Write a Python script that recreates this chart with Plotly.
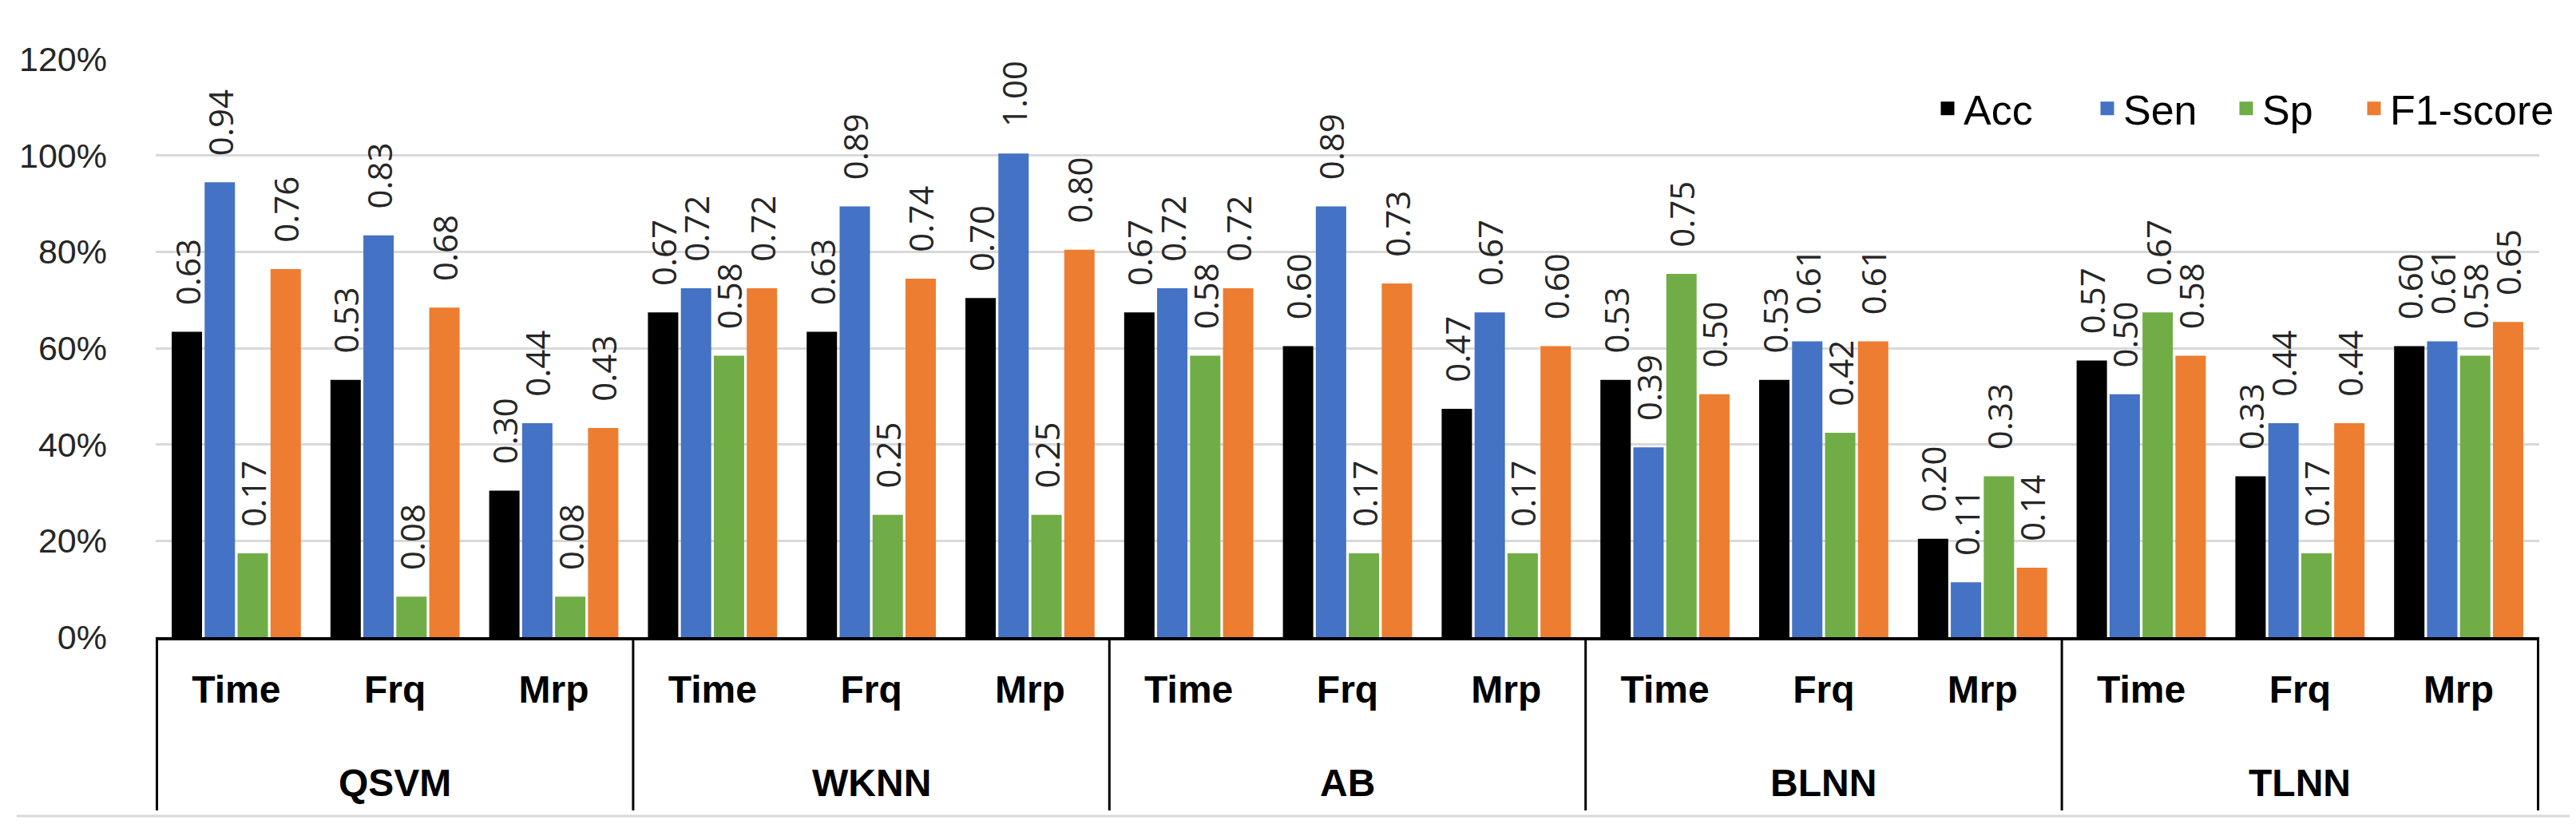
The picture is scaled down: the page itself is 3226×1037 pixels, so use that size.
import plotly.graph_objects as go

groups = ["QSVM", "WKNN", "AB", "BLNN", "TLNN"]
subs = ["Time", "Frq", "Mrp"]
metrics = ["Acc", "Sen", "Sp", "F1-score"]
colors = ["#000000", "#4472C4", "#70AD47", "#ED7D31"]

acc = [0.63, 0.53, 0.30, 0.67, 0.63, 0.70, 0.67, 0.60, 0.47, 0.53, 0.53, 0.20, 0.57, 0.33, 0.60]
sen = [0.94, 0.83, 0.44, 0.72, 0.89, 1.00, 0.72, 0.89, 0.67, 0.39, 0.61, 0.11, 0.50, 0.44, 0.61]
sp = [0.17, 0.08, 0.08, 0.58, 0.25, 0.25, 0.58, 0.17, 0.17, 0.75, 0.42, 0.33, 0.67, 0.17, 0.58]
f1 = [0.76, 0.68, 0.43, 0.72, 0.74, 0.80, 0.72, 0.73, 0.60, 0.50, 0.61, 0.14, 0.58, 0.44, 0.65]
series = [acc, sen, sp, f1]

ids = [f"{g} {s}" for g in groups for s in subs]
ticktext = [s for g in groups for s in subs]

W, H = 3226, 1037
ml, mr, mt, mb = 187, 54, 66, 247
ph = H - mt - mb
pw = W - ml - mr

def py(y):
    return (H - mb - y) / ph

def px(x):
    return (x - ml) / pw

legend_keys = ["legend", "legend2", "legend3", "legend4"]
legend_left = [2411, 2611, 2785, 2945]

fig = go.Figure()
for name, vals, col, lk in zip(metrics, series, colors, legend_keys):
    fig.add_trace(go.Bar(
        name=name, x=ids, y=vals, legend=lk, showlegend=True,
        marker=dict(color=col, line=dict(color=col, width=5)),
        texttemplate="\u00a0\u00a0\u00a0%{y:.2f}", textposition="outside", textangle=-90,
        textfont=dict(family="Open Sans", size=42, color="#262626"),
        constraintext="none", cliponaxis=False,
    ))

shapes = []
n = len(subs)
for i in range(len(groups) + 1):
    shapes.append(dict(type="line", xref="x", yref="paper", x0=i * n - 0.5, x1=i * n - 0.5,
                       y0=0, y1=py(1007), line=dict(color="black", width=3)))
shapes.append(dict(type="line", xref="paper", yref="paper", x0=px(13), x1=px(W), y0=py(1014), y1=py(1014),
                   line=dict(color="#D9D9D9", width=3)))

annotations = []
for i, g in enumerate(groups):
    annotations.append(dict(x=ids[i * n + 1], y=py(972), xref="x", yref="paper", text=g, showarrow=False,
                            yanchor="middle", font=dict(family="Liberation Sans", size=48, color="black", weight="bold")))

legends = {}
for lk, left in zip(legend_keys, legend_left):
    legends[lk] = dict(orientation="h", x=px(left), xanchor="left", y=py(128), yanchor="middle",
                       font=dict(family="Liberation Sans", size=52, color="black"), bgcolor="rgba(0,0,0,0)")

fig.update_layout(
    width=W, height=H, margin=dict(l=ml, r=mr, t=mt, b=mb),
    paper_bgcolor="white", plot_bgcolor="white", showlegend=True,
    barmode="group", bargap=0.17, bargroupgap=0.20,
    shapes=shapes, annotations=annotations,
    xaxis=dict(type="category", tickmode="array", tickvals=ids, ticktext=ticktext,
               showline=True, linecolor="black", linewidth=4, ticks="", showgrid=False,
               tickfont=dict(family="Liberation Sans", size=48, color="black", weight="bold"),
               ticklabelstandoff=20),
    yaxis=dict(range=[0, 1.2], tick0=0, dtick=0.2, tickformat=".0%", showgrid=True,
               gridcolor="#D9D9D9", gridwidth=3, zeroline=False, showline=False, ticks="",
               tickfont=dict(family="Liberation Sans", size=43, color="#262626"),
               ticklabelstandoff=60),
    **legends,
)

fig.write_html("out.html")
